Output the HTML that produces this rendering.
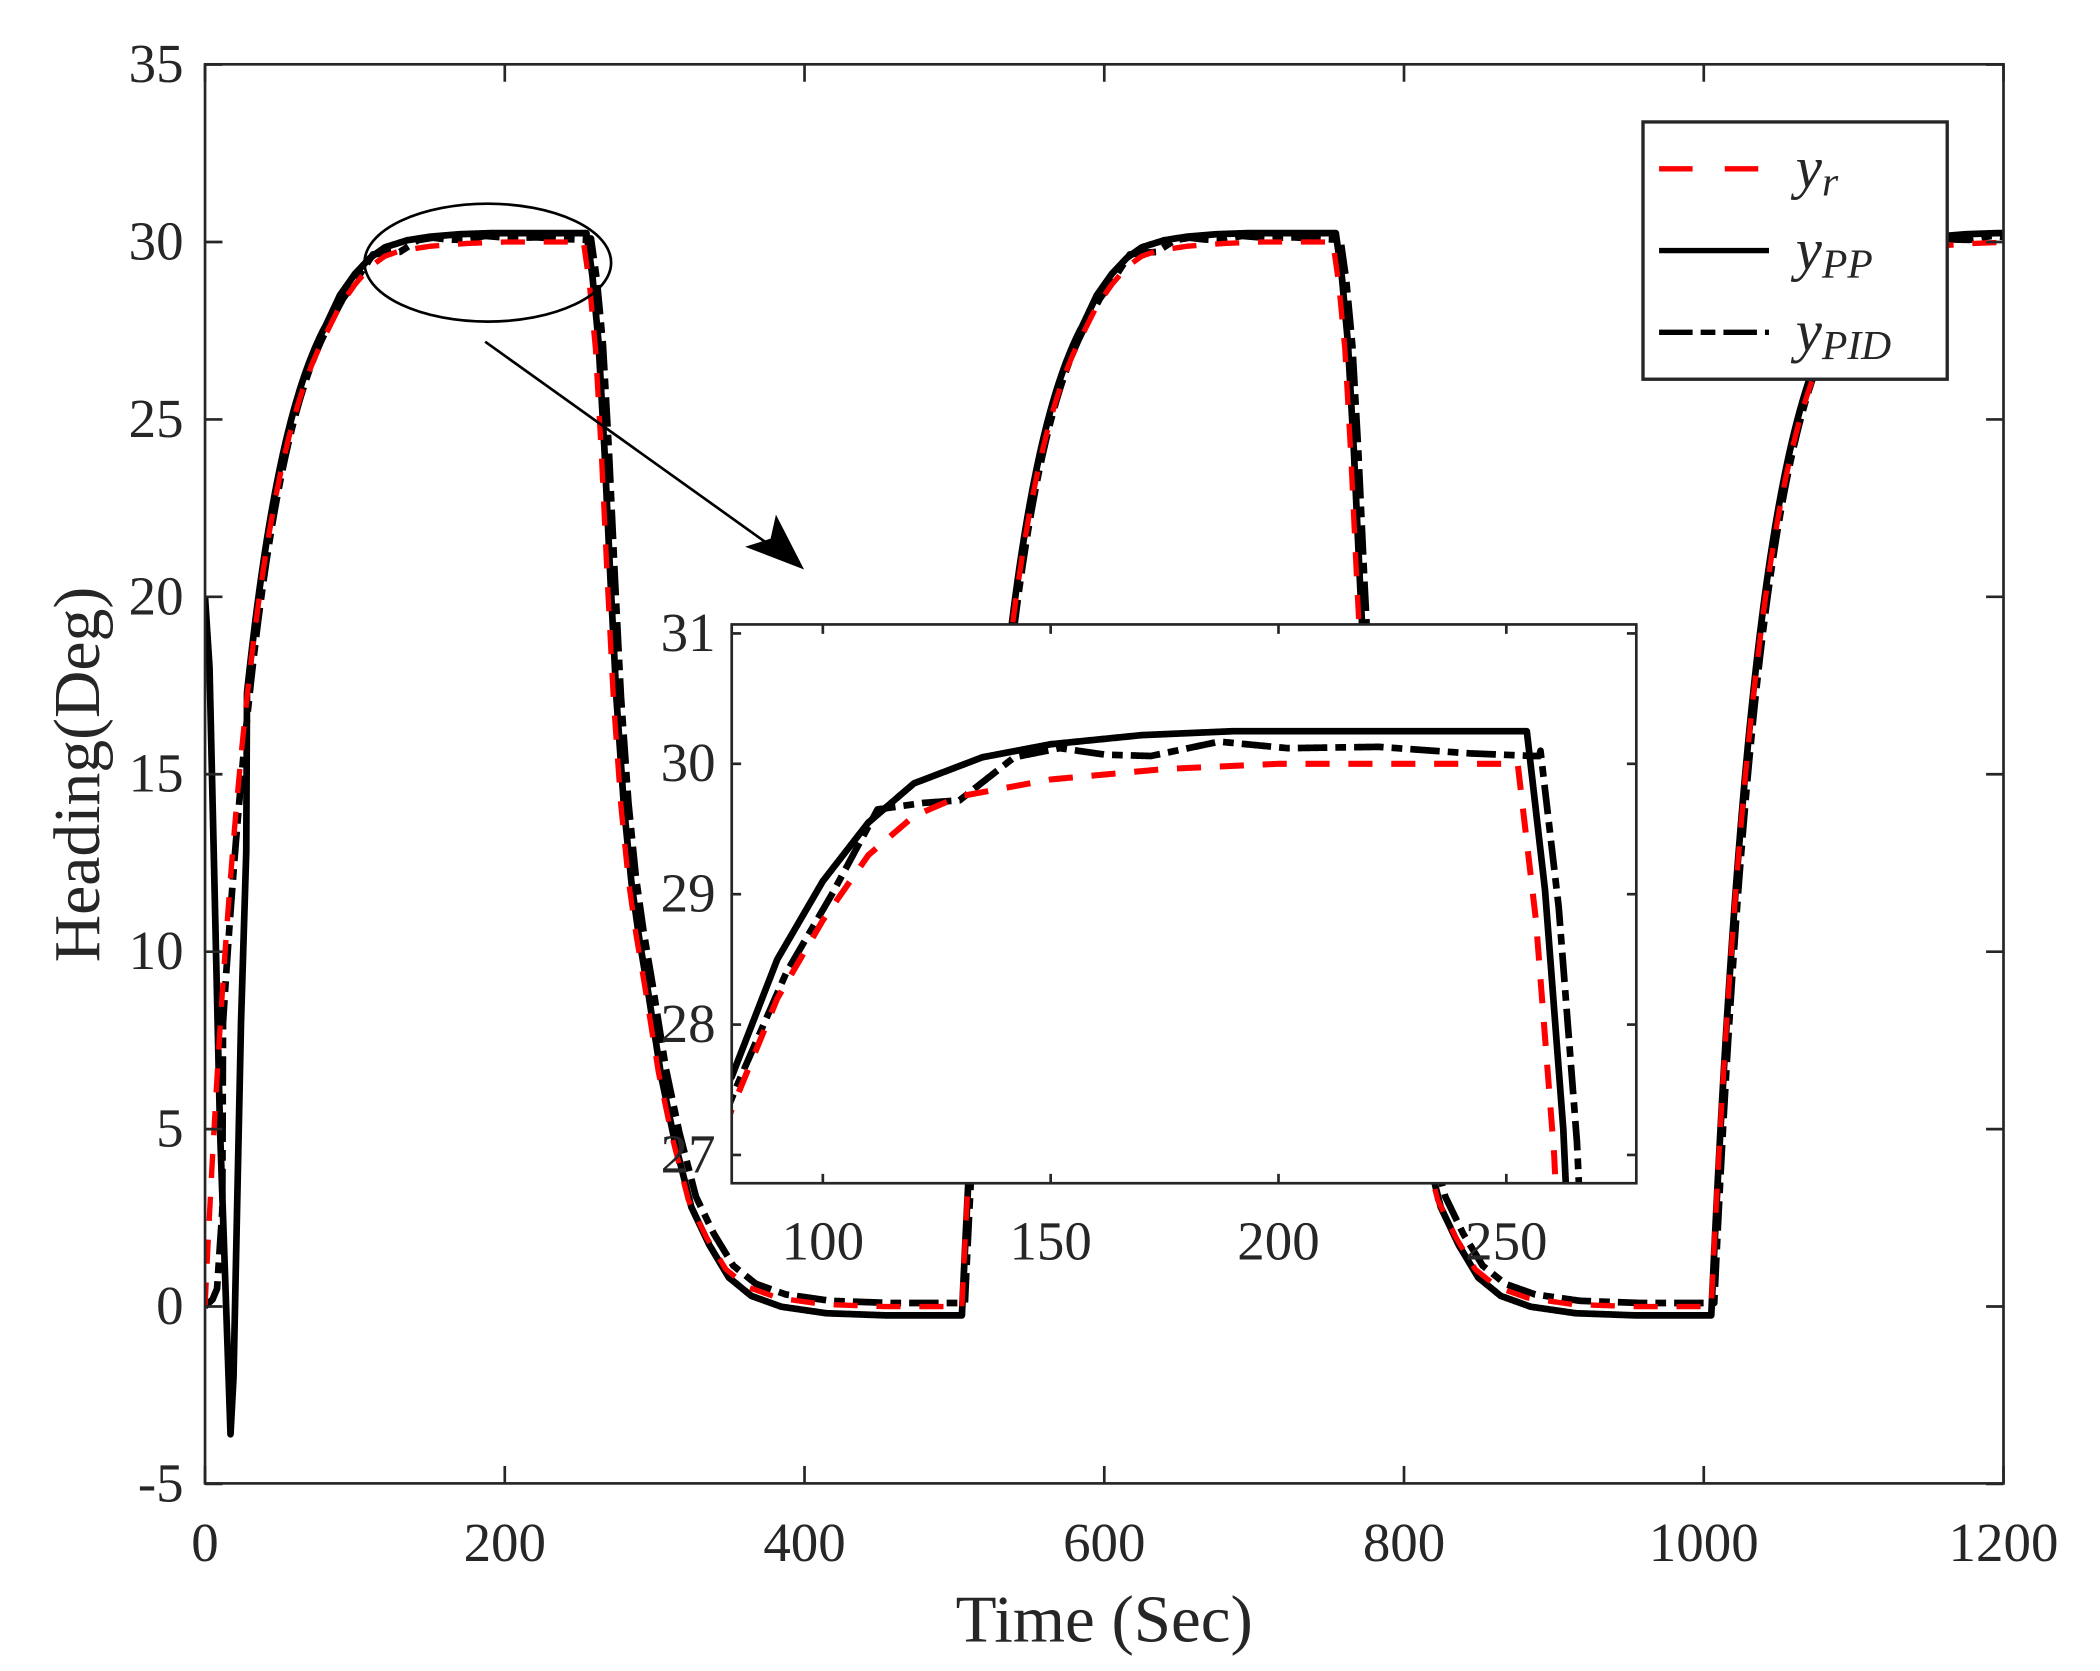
<!DOCTYPE html>
<html><head><meta charset="utf-8"><style>
html,body{margin:0;padding:0;background:#fff;overflow:hidden;width:2100px;height:1671px;}
svg{display:block;}
text{font-family:"Liberation Serif",serif;fill:#262626;}
</style></head><body>
<svg id="s" width="2100" height="1671" viewBox="0 0 1567 1247" preserveAspectRatio="none" xmlns="http://www.w3.org/2000/svg">
<defs>
<clipPath id="cm"><rect x="153" y="48" width="1342" height="1059"/></clipPath>
<clipPath id="ci"><rect x="546" y="466" width="675" height="417"/></clipPath>
</defs>
<rect x="0" y="0" width="1567" height="1247" fill="#fff"/>
<g id="main" clip-path="url(#cm)"></g>
<rect x="153" y="48" width="1342" height="1059" fill="none" stroke="#262626" stroke-width="2"/>
<g id="ticks" stroke="#262626" stroke-width="2"></g>
<g id="labels" font-size="41"></g>
<text x="824" y="1225" font-size="50" text-anchor="middle">Time (Sec)</text>
<text transform="translate(74,578) rotate(-90)" font-size="49" text-anchor="middle">Heading(Deg)</text>
<ellipse cx="364" cy="196" rx="92" ry="44" fill="none" stroke="#000" stroke-width="2"/>
<line x1="362" y1="255" x2="590" y2="418" stroke="#000" stroke-width="2"/>
<path d="M600,425 L556,408 L575,402 L579,384 Z" fill="#000"/>
<rect x="546" y="466" width="675" height="417" fill="#fff"/>
<g id="inset" clip-path="url(#ci)"></g>
<rect x="546" y="466" width="675" height="417" fill="none" stroke="#262626" stroke-width="2"/>
<g id="iticks" stroke="#262626" stroke-width="2"></g>
<g id="ilabels" font-size="41"></g>
<rect x="1226" y="91" width="227" height="192" fill="#fff" stroke="#262626" stroke-width="2.5"/>
<line x1="1238" y1="126" x2="1320" y2="126" stroke="#f00" stroke-width="4" stroke-dasharray="25,24"/>
<line x1="1238" y1="187" x2="1320" y2="187" stroke="#000" stroke-width="4"/>
<line x1="1238" y1="248" x2="1320" y2="248" stroke="#000" stroke-width="4" stroke-dasharray="25,6,11,6"/>
<text x="1340" y="140" font-size="44" font-style="italic" fill="#000">y<tspan font-size="31" dy="6">r</tspan></text>
<text x="1340" y="201" font-size="44" font-style="italic" fill="#000">y<tspan font-size="31" dy="6">PP</tspan></text>
<text x="1340" y="262" font-size="44" font-style="italic" fill="#000">y<tspan font-size="31" dy="6">PID</tspan></text>
</svg>
<script>
function interp(pts,s){if(s<=pts[0][0])return pts[0][1];for(var i=1;i<pts.length;i++){if(s<=pts[i][0]){var a=pts[i-1],b=pts[i];return a[1]+(b[1]-a[1])*(s-a[0])/(b[0]-a[0]);}}return pts[pts.length-1][1];}
var F=[[0,1],[4,0.96],[8,0.9],[12,0.8],[16,0.68],[20,0.57],[25,0.47],[30,0.4],[35,0.35],[41,0.3],[50,0.22],[59,0.16],[70,0.1],[82,0.065],[95,0.035],[110,0.018],[130,0.008],[160,0.002],[200,0]];
function seg(t,sh){
 if(t<255+sh[1]) return ['r',t-sh[0]];
 if(t<505+sh[0]) return ['f',t-255-sh[1]];
 if(t<755+sh[1]) return ['r',t-505-sh[0]];
 if(t<1005+sh[0]) return ['f',t-755-sh[1]];
 return ['r',t-1005-sh[0]];
}
var RT=[[80,27.35],[90,28.2],[100,28.8],[110,29.3],[120,29.6],[130,29.75],[150,29.88],[175,29.96],[200,30]];
var PPT=[[80,27.6],[90,28.5],[100,29.1],[110,29.55],[120,29.85],[135,30.05],[150,30.15],[170,30.22],[190,30.25]];
var PT=[[80,27.6],[90,28.4],[100,29.0],[110,29.65],[120,29.7],[128,29.72],[140,30.05],[150,30.12],[160,30.07],[170,30.06],[185,30.17],[200,30.12],[220,30.13],[240,30.08],[254,30.06]];
function yr(t){var p=seg(t,[0,-2.5]);if(p[0]=='r'){var s=p[1];if(s<=0)return 0;if(s<80)return 30*(1-Math.exp(-s/33));return interp(RT,s);}return 30*interp(F,p[1]);}
function ypp(t){
 if(t<28) return interp([[0,20],[3,18],[10,5],[17,-3.6],[19,-2],[24,8],[28,13.5]],t);
 var p=seg(t,[0,-0.5]);if(p[0]=='r'){var s=p[1];if(s<=0)return -0.25;if(s<80)return -0.25+30.5*(1-Math.exp(-s/32.7));return interp(PPT,s);}
 return -0.25+30.5*interp(F,p[1]);
}
function ypid(t){
 if(t<12) return interp([[0,0],[5,0.2],[8,0.5],[12,3]],t);
 var p=seg(t,[2,2.5]);
 if(p[0]=='r'){var s=p[1];if(s<=0)return 0.1;if(s<80)return 0.1+27.5*(1-Math.exp(-s/33))/(1-Math.exp(-80/33));return interp(PT,s);}
 return 0.1+30*interp(F,p[1]);
}
function path(fn,X,Y,t0,t1,dt){var d="";for(var t=t0;t<=t1;t+=dt){d+=(d?"L":"M")+X(t).toFixed(2)+","+Y(fn(t)).toFixed(2);}return d;}
var NS="http://www.w3.org/2000/svg";
function add(g,d,col,dash,w){var p=document.createElementNS(NS,"path");p.setAttribute("d",d);p.setAttribute("fill","none");p.setAttribute("stroke",col);p.setAttribute("stroke-width",w);p.setAttribute("stroke-linejoin","round");if(dash)p.setAttribute("stroke-dasharray",dash);document.getElementById(g).appendChild(p);}
var MX=function(t){return 153+t*1342/1200;},MY=function(y){return 975-y*132.4/5;};
add("main",path(ypp,MX,MY,0,1200,0.5),"#000",null,5);
add("main",path(ypid,MX,MY,0,1200,0.5),"#000","22,6,8,6",5);
add("main",path(yr,MX,MY,0,1200,0.5),"#f00","18,14",4);
var IX=function(t){return 546+(t-80)*3.4;},IY=function(y){return 570-(y-30)*97.3;};
add("inset",path(ypp,IX,IY,78,280,0.25),"#000",null,5);
add("inset",path(ypid,IX,IY,78,280,0.25),"#000","22,6,8,6",5);
add("inset",path(yr,IX,IY,78,280,0.25),"#f00","18,14",4.5);
function el(g,tag,attrs,txt){var e=document.createElementNS(NS,tag);for(var k in attrs)e.setAttribute(k,attrs[k]);if(txt!==undefined)e.textContent=txt;document.getElementById(g).appendChild(e);}
for(var t=0;t<=1200;t+=200){var x=MX(t);el("ticks","line",{x1:x,y1:1107,x2:x,y2:1094});el("ticks","line",{x1:x,y1:48,x2:x,y2:61});el("labels","text",{x:x,y:1165,"text-anchor":"middle"},t);}
for(var v=-5;v<=35;v+=5){var y=MY(v);el("ticks","line",{x1:153,y1:y,x2:166,y2:y});el("ticks","line",{x1:1495,y1:y,x2:1482,y2:y});el("labels","text",{x:137,y:y+13,"text-anchor":"end"},v);}
for(var t=100;t<=250;t+=50){var x=IX(t);el("iticks","line",{x1:x,y1:883,x2:x,y2:876});el("iticks","line",{x1:x,y1:466,x2:x,y2:473});el("ilabels","text",{x:x,y:940,"text-anchor":"middle"},t);}
for(var v=27;v<=31;v++){var y=IY(v);el("iticks","line",{x1:546,y1:y,x2:553,y2:y});el("iticks","line",{x1:1221,y1:y,x2:1214,y2:y});el("ilabels","text",{x:534,y:y+13,"text-anchor":"end"},v);}
</script>
</body></html>
